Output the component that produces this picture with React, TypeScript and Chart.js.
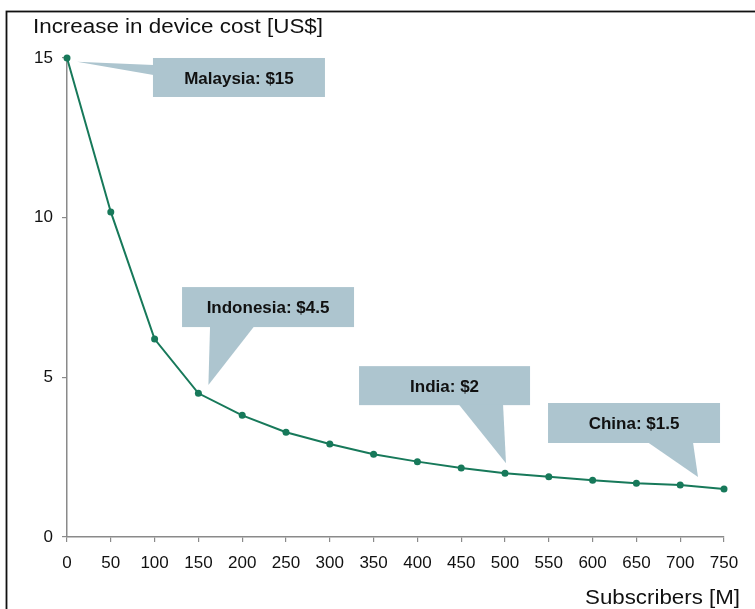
import { useEffect, useRef } from 'react';
import { Chart, registerables } from 'chart.js';

Chart.register(...registerables);

// Subscribers in millions vs. added cost per device in US$
const subscribers = [0, 50, 100, 150, 200, 250, 300, 350, 400, 450, 500, 550, 600, 650, 700, 750];
const deviceCost = [15, 10.18, 6.2, 4.5, 3.81, 3.28, 2.91, 2.59, 2.36, 2.16, 2.0, 1.89, 1.78, 1.68, 1.63, 1.5];

const xTickValues = [0, 50, 100, 150, 200, 250, 300, 350, 400, 450, 500, 550, 600, 650, 700, 750];
const yTickValues = [0, 5, 10, 15];

// Country callouts: which point each one refers to and its stated value
const calloutCountries = ['Malaysia', 'Indonesia', 'India', 'China'];
const calloutValues = [15, 4.5, 2, 1.5];
const calloutPointIndex = [0, 3, 10, 15];

const yTitle = 'Increase in device cost [US$]';
const xTitle = 'Subscribers [M]';

const LINE_COLOR = '#17795a';
const AXIS_COLOR = '#8a8a8a';
const BOX_COLOR = '#adc5cf';
const FONT = '"Liberation Sans", Arial, Helvetica, sans-serif';

// Box centres in data units, box size in px; wedge base along one box edge; tip offset from the referenced point
type Layout = {
  cx: number;
  cy: number;
  w: number;
  h: number;
  side: 'left' | 'bottom';
  from: number;
  to: number;
  tipDx: number;
  tipDy: number;
};
const calloutLayout: Layout[] = [
  { cx: 196.3, cy: 14.39, w: 172, h: 39, side: 'left', from: 7, to: 17, tipDx: 10, tipDy: 3.7 },
  { cx: 229.5, cy: 7.2, w: 172, h: 40, side: 'bottom', from: 28, to: 72, tipDx: 10, tipDy: -8.3 },
  { cx: 431, cy: 4.74, w: 171, h: 39, side: 'bottom', from: 100, to: 144, tipDx: 1, tipDy: -10 },
  { cx: 647.3, cy: 3.57, w: 172, h: 40, side: 'bottom', from: 100, to: 145, tipDx: -26, tipDy: -12 },
];

function drawStretched(
  ctx: CanvasRenderingContext2D,
  text: string,
  x: number,
  y: number,
  size: number,
  width: number,
  align: CanvasTextAlign
) {
  ctx.save();
  ctx.font = `${size}px ${FONT}`;
  const measured = ctx.measureText(text).width;
  ctx.translate(x, y);
  ctx.scale(width / measured, 1);
  ctx.textAlign = align;
  ctx.textBaseline = 'alphabetic';
  ctx.fillStyle = '#111';
  ctx.fillText(text, 0, 0);
  ctx.restore();
}

const backgroundPlugin = {
  id: 'pageBackground',
  beforeDraw(chart: Chart) {
    const { ctx, width, height } = chart;
    ctx.save();
    ctx.fillStyle = '#ffffff';
    ctx.fillRect(0, 0, width, height);
    ctx.restore();
  },
};

const calloutPlugin = {
  id: 'countryCallouts',
  afterDatasetsDraw(chart: Chart) {
    const { ctx } = chart;
    const xs = chart.scales.x;
    const ys = chart.scales.y;
    ctx.save();
    calloutLayout.forEach((c, i) => {
      const idx = calloutPointIndex[i];
      const px = xs.getPixelForValue(subscribers[idx]);
      const py = ys.getPixelForValue(deviceCost[idx]);
      const tipX = px + c.tipDx;
      const tipY = py + c.tipDy;
      const bx = xs.getPixelForValue(c.cx) - c.w / 2;
      const by = ys.getPixelForValue(c.cy) - c.h / 2;

      ctx.fillStyle = BOX_COLOR;
      ctx.fillRect(bx, by, c.w, c.h);
      ctx.beginPath();
      if (c.side === 'left') {
        ctx.moveTo(bx + 0.5, by + c.from);
        ctx.lineTo(tipX, tipY);
        ctx.lineTo(bx + 0.5, by + c.to);
      } else {
        ctx.moveTo(bx + c.from, by + c.h - 0.5);
        ctx.lineTo(tipX, tipY);
        ctx.lineTo(bx + c.to, by + c.h - 0.5);
      }
      ctx.closePath();
      ctx.fill();

      ctx.fillStyle = '#111';
      ctx.font = `bold 17px ${FONT}`;
      ctx.textAlign = 'center';
      ctx.textBaseline = 'middle';
      ctx.fillText(`${calloutCountries[i]}: $${calloutValues[i]}`, bx + c.w / 2, by + c.h / 2 + 1.5);
    });
    ctx.restore();
  },
  afterDraw(chart: Chart) {
    const { ctx } = chart;
    // axis titles
    drawStretched(ctx, yTitle, 33, 33, 20, 290, 'left');
    drawStretched(ctx, xTitle, 740, 604, 20, 155, 'right');
    // outer frame
    ctx.save();
    ctx.strokeStyle = '#111';
    ctx.lineWidth = 1.8;
    ctx.strokeRect(6.5, 11.5, 800, 700);
    ctx.restore();
  },
};

export default function App() {
  const canvasRef = useRef<HTMLCanvasElement | null>(null);

  useEffect(() => {
    const canvas = canvasRef.current;
    if (!canvas) return;
    const chart = new Chart(canvas, {
      type: 'line',
      data: {
        datasets: [
          {
            data: subscribers.map((s, i) => ({ x: s, y: deviceCost[i] })),
            borderColor: LINE_COLOR,
            backgroundColor: LINE_COLOR,
            borderWidth: 2,
            pointRadius: 3.5,
            pointHoverRadius: 3.5,
            pointBorderWidth: 0,
            tension: 0,
            clip: false as any,
          },
        ],
      },
      options: {
        animation: false,
        responsive: false,
        devicePixelRatio: 1,
        layout: { padding: { left: 0, right: 31, top: 58, bottom: 0 } },
        plugins: {
          legend: { display: false },
          tooltip: { enabled: false },
          title: { display: false },
        },
        events: [],
        scales: {
          x: {
            type: 'linear',
            min: 0,
            max: 750,
            afterBuildTicks: (scale: any) => {
              scale.ticks = xTickValues.map((v) => ({ value: v }));
            },
            afterFit: (scale: any) => {
              scale.height = 72;
            },
            ticks: {
              autoSkip: false,
              maxRotation: 0,
              padding: 11,
              color: '#111',
              font: { family: FONT, size: 17 },
            },
            grid: {
              drawOnChartArea: false,
              drawTicks: true,
              tickLength: 5,
              color: AXIS_COLOR,
              lineWidth: 1.2,
            },
            border: { display: true, color: AXIS_COLOR, width: 1.5 },
          },
          y: {
            type: 'linear',
            min: 0,
            max: 15,
            afterBuildTicks: (scale: any) => {
              scale.ticks = yTickValues.map((v) => ({ value: v }));
            },
            afterFit: (scale: any) => {
              scale.width = 67;
            },
            ticks: {
              padding: 9,
              color: '#111',
              font: { family: FONT, size: 17 },
            },
            grid: {
              drawOnChartArea: false,
              drawTicks: true,
              tickLength: 5,
              color: AXIS_COLOR,
              lineWidth: 1.2,
            },
            border: { display: true, color: AXIS_COLOR, width: 1.5 },
          },
        },
      },
      plugins: [backgroundPlugin, calloutPlugin],
    });
    return () => chart.destroy();
  }, []);

  return (
    <div style={{ position: 'fixed', left: 0, top: 0, width: 755, height: 609, background: '#fff' }}>
      <canvas ref={canvasRef} width={755} height={609} style={{ display: 'block', width: 755, height: 609 }} />
    </div>
  );
}
